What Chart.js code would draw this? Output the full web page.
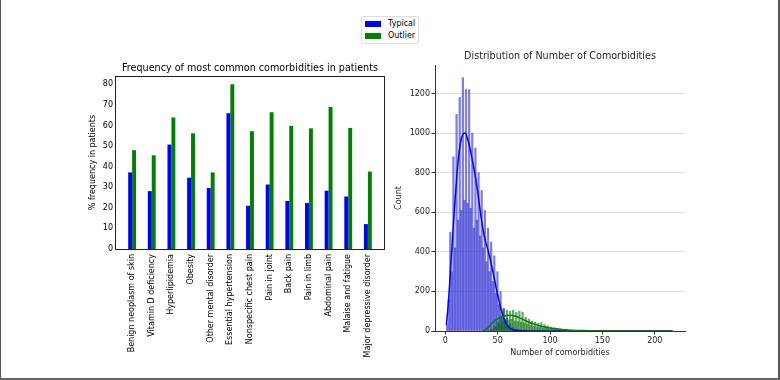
<!DOCTYPE html>
<html>
<head>
<meta charset="utf-8">
<script src="https://cdn.jsdelivr.net/npm/chart.js@4.4.0/dist/chart.umd.min.js"></script>
<style>
  html, body { margin: 0; padding: 0; background: #fff; }
  body { width: 780px; height: 380px; position: relative; overflow: hidden; font-family: 'DejaVu Sans', sans-serif; }
  canvas { position: absolute; left: 0; top: 0; }
  #frame {
    position: absolute; left: 0; top: 0; width: 780px; height: 380px; box-sizing: border-box;
    border-left: 1px solid #555; border-right: 2px solid #555; border-bottom: 2px solid #666;
    pointer-events: none;
  }
  #legend {
    position: absolute; left: 361px; top: 16px; width: 56px; height: 26px;
    border: 1px solid #ddd; border-radius: 2px; background: #fff; font-size: 8px; color: #000;
  }
  .item { position: absolute; left: 0; height: 10px; line-height: 10px; }
  .patch { position: absolute; left: 3px; top: 2px; width: 16px; height: 6px; }
  .txt { position: absolute; left: 26px; top: 0; white-space: nowrap; }
</style>
</head>
<body>
<canvas id="freqChart" width="780" height="380"></canvas>
<canvas id="distChart" width="780" height="380"></canvas>
<div id="legend"></div>
<div id="frame"></div>

<script>
Chart.defaults.font.family = "'DejaVu Sans', sans-serif";
Chart.defaults.font.size = 8;
Chart.defaults.color = '#262626';

// left chart: % of patients with each comorbidity
const comorbidities = [
    'Benign neoplasm of skin',
    'Vitamin D deficiency',
    'Hyperlipidemia',
    'Obesity',
    'Other mental disorder',
    'Essential hypertension',
    'Nonspecific chest pain',
    'Pain in joint',
    'Back pain',
    'Pain in limb',
    'Abdominal pain',
    'Malaise and fatigue',
    'Major depressive disorder'
];
const typicalPct = [37.2, 28.1, 50.7, 34.6, 29.6, 65.9, 21.0, 31.3, 23.3, 22.3, 28.3, 25.5, 12.1];
const outlierPct = [48.0, 45.5, 63.8, 56.2, 37.2, 80.0, 57.2, 66.4, 59.8, 58.6, 69.0, 58.8, 37.6];
const pctTicks = [0, 10, 20, 30, 40, 50, 60, 70, 80];

// right chart: histogram of number of comorbidities (bins of 1.5 starting at 1)
const binStart = 1;
const binWidth = 1.5;
const typicalCounts = [30, 160, 500, 300, 880, 420, 1095, 560, 1180, 610, 1280, 660, 1220, 645, 1220, 620,
    1000, 520, 925, 560, 800, 480, 710, 420, 610, 350, 520, 300, 450, 250, 380, 190, 300, 135, 200, 80,
    115, 45, 65, 25, 35, 12, 18, 6, 8, 3, 4, 2, 2];
const outlierFirstBin = 26;
const outlierCounts = [2, 2, 8, 8, 25, 22, 45, 35, 70, 50, 110, 60, 105, 55, 100, 60, 105, 50, 95, 48,
    100, 45, 95, 40, 70, 35, 60, 28, 50, 24, 45, 20, 40, 18, 42, 15, 32, 14, 26, 10, 20, 9, 17, 8, 14,
    6, 11, 5, 9, 4, 8, 3, 6, 3, 5, 2, 4, 2, 3, 1, 3, 1, 2, 1, 2, 1, 1, 1, 1];
// kde curves (scaled to counts)
const kdeTypicalX = [1, 3, 5, 7, 9, 11, 13, 15, 17, 19, 21, 23, 25, 27, 29, 31, 33, 35, 37, 39, 41, 43,
    45, 47, 49, 51, 53, 55, 57, 59, 61, 63, 66, 70, 75, 80, 100, 150, 217];
const kdeTypicalY = [30, 150, 310, 480, 640, 785, 895, 965, 995, 1000, 975, 935, 885, 830, 770, 700, 620,
    545, 485, 440, 405, 360, 310, 260, 205, 160, 115, 80, 50, 30, 18, 10, 5, 2, 1, 0.5, 0.3, 0.2, 0.1];
const kdeOutlierX = [36, 40, 44, 48, 52, 56, 60, 64, 68, 72, 76, 80, 84, 88, 92, 96, 100, 105, 110, 115,
    120, 130, 140, 160, 190, 217];
const kdeOutlierY = [0.5, 12, 38, 55, 67, 75, 79, 78, 73, 64, 54, 44, 36, 29, 24, 19, 15, 11, 8, 6, 4,
    2.5, 1.5, 0.6, 0.2, 0.1];
const countTicks = [0, 200, 400, 600, 800, 1000, 1200];
const comorbTicks = [0, 50, 100, 150, 200];

const colors = { typical: '#0000ff', outlier: '#008000' };

// legend (shared by both panels)
const legend = document.getElementById('legend');
[['Typical', colors.typical], ['Outlier', colors.outlier]].forEach(([name, col], i) => {
    legend.innerHTML += `
        <div class="item" style="top:${2 + i * 12}px">
            <span class="patch" style="background:${col}"></span>
            <span class="txt">${name}</span>
        </div>`;
});

// draws the full box around the left axes
const frameBox = {
    id: 'frameBox',
    afterDatasetsDraw(chart) {
        const { ctx, chartArea: a } = chart;
        ctx.save();
        ctx.strokeStyle = '#222';
        ctx.lineWidth = 1;
        ctx.strokeRect(Math.round(a.left) - 0.5, Math.round(a.top) + 0.5,
            Math.round(a.right - a.left) + 1, Math.round(a.bottom - a.top));
        ctx.restore();
    }
};

new Chart(document.getElementById('freqChart'), {
    type: 'bar',
    data: {
        datasets: [
            { label: 'Typical', data: typicalPct.map((v, i) => ({ x: i, y: v })), backgroundColor: colors.typical },
            { label: 'Outlier', data: outlierPct.map((v, i) => ({ x: i, y: v })), backgroundColor: colors.outlier }
        ]
    },
    options: {
        responsive: false,
        animation: false,
        events: [],
        datasets: { bar: { categoryPercentage: 0.4, barPercentage: 1 } },
        layout: { padding: { left: 84, right: 396, top: 62.3, bottom: 0 } },
        plugins: {
            legend: { display: false },
            tooltip: { enabled: false },
            title: {
                display: true, fullSize: false,
                text: 'Frequency of most common comorbidities in patients',
                font: { size: 9.6, weight: 'normal' }, color: '#000',
                padding: { top: 0, bottom: 2.2 }
            }
        },
        scales: {
            x: {
                type: 'linear', min: -0.82, max: 12.82, offset: false,
                afterBuildTicks: s => { s.ticks = comorbidities.map((_, i) => ({ value: i })); },
                afterFit: s => { s.height = 131; },
                ticks: { autoSkip: false, minRotation: 90, maxRotation: 90, padding: 5, color: '#000',
                    callback: v => comorbidities[v] },
                grid: { display: false, drawTicks: false, offset: false },
                border: { display: false }
            },
            y: {
                min: 0, max: 84,
                afterBuildTicks: s => { s.ticks = pctTicks.map(v => ({ value: v })); },
                afterFit: s => { s.width = 32; },
                ticks: { padding: 3, color: '#000', callback: v => String(v) },
                grid: { display: false, drawTicks: false },
                border: { display: false },
                title: { display: true, text: '% frequency in patients', color: '#000', padding: { top: 4, bottom: 0 } }
            }
        }
    },
    plugins: [frameBox]
});

const binCenter = i => binStart + binWidth * (i + 0.5);

new Chart(document.getElementById('distChart'), {
    type: 'bar',
    data: {
        datasets: [
            {
                label: 'Typical', order: 3, grouped: false,
                data: typicalCounts.map((c, i) => ({ x: binCenter(i), y: c })),
                backgroundColor: 'rgba(40, 40, 210, 0.6)',
                barPercentage: 1, categoryPercentage: 1
            },
            {
                label: 'Outlier', order: 2, grouped: false,
                data: outlierCounts.map((c, i) => ({ x: binCenter(i + outlierFirstBin), y: c })),
                backgroundColor: 'rgba(0, 110, 0, 0.6)',
                barPercentage: 1, categoryPercentage: 1
            },
            {
                type: 'line', label: 'Typical kde', order: 1,
                data: kdeTypicalX.map((x, i) => ({ x: x, y: kdeTypicalY[i] })),
                borderColor: colors.typical, borderWidth: 1.5, pointRadius: 0,
                cubicInterpolationMode: 'monotone'
            },
            {
                type: 'line', label: 'Outlier kde', order: 0,
                data: kdeOutlierX.map((x, i) => ({ x: x, y: kdeOutlierY[i] })),
                borderColor: colors.outlier, borderWidth: 1.5, pointRadius: 0,
                cubicInterpolationMode: 'monotone'
            }
        ]
    },
    options: {
        responsive: false,
        animation: false,
        events: [],
        layout: { padding: { left: 390, right: 95, top: 51, bottom: 22.5 } },
        plugins: {
            legend: { display: false },
            tooltip: { enabled: false },
            title: {
                display: true, fullSize: false,
                text: 'Distribution of Number of Comorbidities',
                font: { size: 9.6, weight: 'normal' }, color: '#262626',
                padding: { top: 0, bottom: 2.5 }
            }
        },
        scales: {
            x: {
                type: 'linear', min: -9.85, max: 228.85, offset: false,
                afterBuildTicks: s => { s.ticks = comorbTicks.map(v => ({ value: v })); },
                afterFit: s => { s.height = 26.5; },
                ticks: { padding: 1.5, callback: v => String(v) },
                grid: { drawOnChartArea: false, tickLength: 3.5, color: '#333', offset: false },
                border: { color: '#333' },
                title: { display: true, text: 'Number of comorbidities', padding: { top: 0, bottom: 0 } }
            },
            y: {
                min: 0, max: 1344,
                afterBuildTicks: s => { s.ticks = countTicks.map(v => ({ value: v })); },
                afterFit: s => { s.width = 45; },
                ticks: { padding: 1.5, callback: v => String(v) },
                grid: { color: '#dedede', tickColor: '#333', tickLength: 3.5 },
                border: { color: '#333' },
                title: { display: true, text: 'Count', padding: { top: 4, bottom: 0 } }
            }
        }
    }
});
</script>
</body>
</html>
